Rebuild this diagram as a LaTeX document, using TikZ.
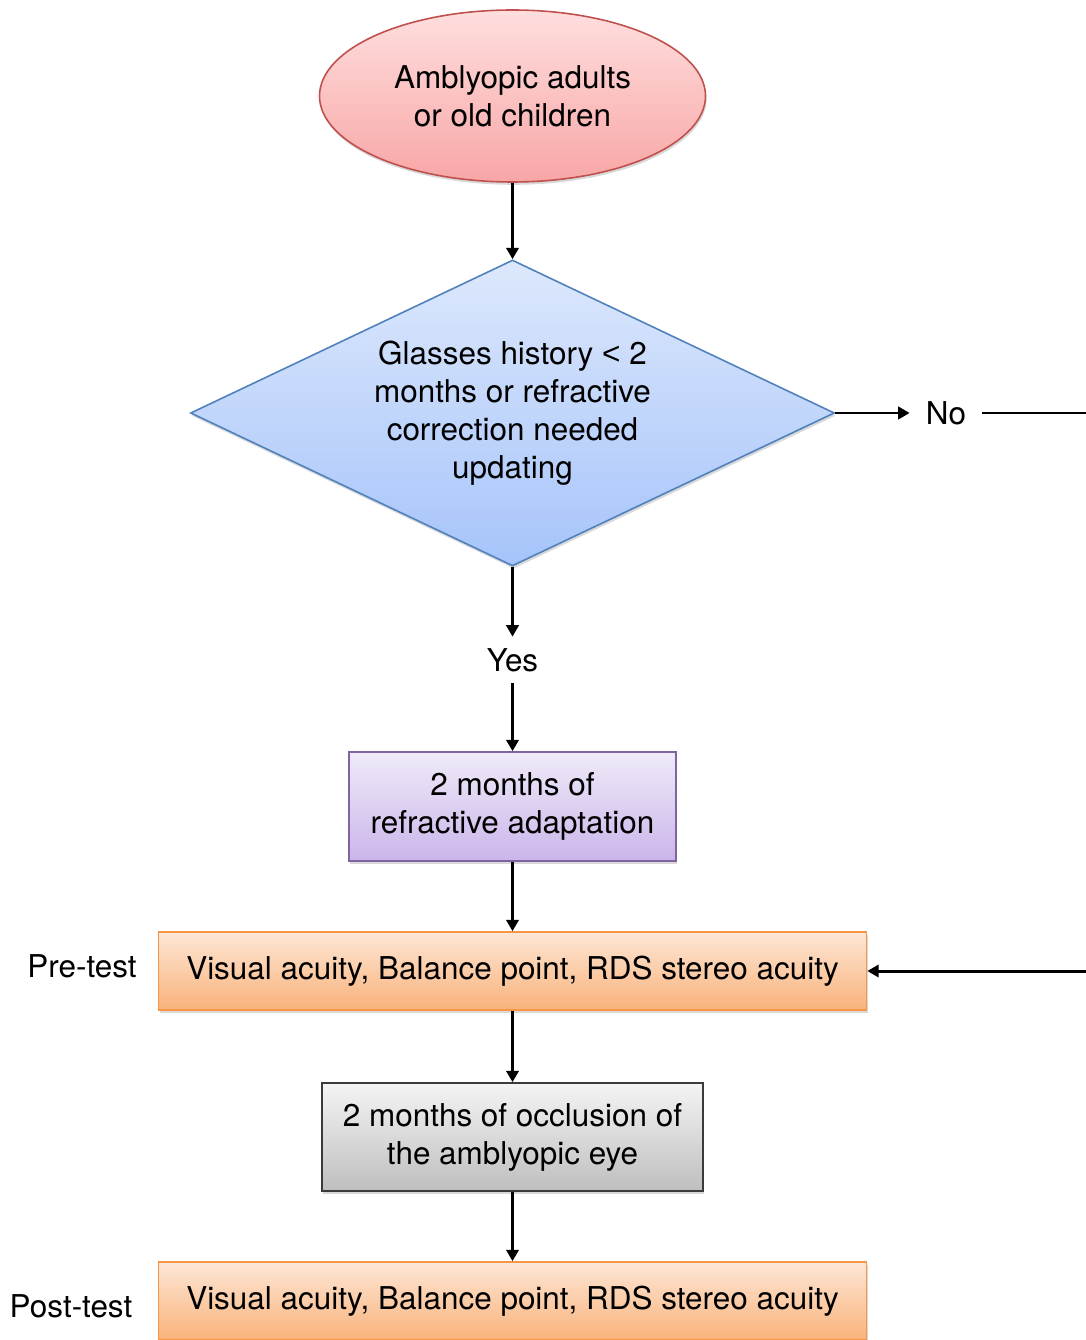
\documentclass[tikz,border=0pt]{standalone}
\usepackage{fontspec}
\setmainfont{TeX Gyre Heros}
\newfontfamily\symfont{Liberation Sans}
\usetikzlibrary{shapes.geometric, arrows.meta, shadows}

\definecolor{starttop}{HTML}{FFDEDE}
\definecolor{startbot}{HTML}{F8A6A6}
\definecolor{startedge}{HTML}{C0504D}
\definecolor{checktop}{HTML}{DDE8FC}
\definecolor{checkbot}{HTML}{A6C4FA}
\definecolor{checkedge}{HTML}{4F81BD}
\definecolor{adapttop}{HTML}{F0EAF9}
\definecolor{adaptbot}{HTML}{CAB6EA}
\definecolor{adaptedge}{HTML}{8064A2}
\definecolor{testtop}{HTML}{FDE7D6}
\definecolor{testbot}{HTML}{F9B27A}
\definecolor{testedge}{HTML}{F79646}
\definecolor{occltop}{HTML}{F4F4F4}
\definecolor{occlbot}{HTML}{BEBEBE}
\definecolor{occledge}{HTML}{3A3A3A}

\tikzset{
    flowarrow/.style={-{Triangle[length=6.5pt,width=7pt]}, line width=1.7pt},
    boxshadow/.style={drop shadow={shadow xshift=0.6pt, shadow yshift=-1.6pt, opacity=0.3}},
    startnode/.style={ellipse, draw=startedge, line width=0.9pt, top color=starttop,
        bottom color=startbot, minimum width=7.72cm, minimum height=3.44cm,
        inner sep=0pt, align=center, boxshadow},
    decision/.style={diamond, aspect=2.1, draw=checkedge, line width=0.9pt, top color=checktop,
        bottom color=checkbot, minimum width=12.88cm, minimum height=6.12cm,
        inner sep=0pt, align=center, boxshadow},
    adaptbox/.style={rectangle, draw=adaptedge, line width=0.9pt, top color=adapttop,
        bottom color=adaptbot, minimum width=6.54cm, minimum height=2.18cm,
        inner sep=0pt, align=center, boxshadow},
    testbox/.style={rectangle, draw=testedge, line width=0.9pt, top color=testtop,
        bottom color=testbot, minimum width=14.16cm, minimum height=1.56cm,
        inner sep=0pt, align=center, boxshadow},
    occlbox/.style={rectangle, draw=occledge, line width=0.9pt, top color=occltop,
        bottom color=occlbot, minimum width=7.62cm, minimum height=2.16cm,
        inner sep=0pt, align=center, boxshadow},
    answer/.style={inner sep=0pt, minimum height=0.92cm, minimum width=1.44cm}
}

\begin{document}
\begin{tikzpicture}[font=\fontsize{17.9}{21.6}\selectfont]
    \useasboundingbox (0,0) rectangle (21.7,-26.8);

    % start and decision
    \node[startnode] (start) at (10.25,-1.92) {Amblyopic adults\\or old children};
    \node[decision] (check) at (10.25,-8.26) {Glasses history {\symfont<} 2\\months or refractive\\correction needed\\updating};
    \node[answer] (yes) at (10.25,-13.2) {Yes};
    \node[answer] (no) at (18.92,-8.26) {No};

    % steps
    \node[adaptbox] (adapt) at (10.25,-16.13) {2 months of\\refractive adaptation};
    \node[testbox] (pre) at (10.25,-19.42) {Visual acuity, Balance point, RDS stereo acuity};
    \node[occlbox] (occl) at (10.25,-22.74) {2 months of occlusion of\\the amblyopic eye};
    \node[testbox] (post) at (10.25,-26.02) {Visual acuity, Balance point, RDS stereo acuity};

    % side labels
    \node (prelabel) at (1.64,-19.32) {Pre-test};
    \node (postlabel) at (1.42,-26.12) {Post-test};

    % arrows
    \foreach \a/\b in {start/check, check/yes, yes/adapt, adapt/pre, pre/occl, occl/post} {
        \draw[flowarrow] (\a.south) -- (\b.north);
    }
    \draw[flowarrow] (check.east) -- (no.west);
    \draw[flowarrow] (no.east) -- ++(4.5,0) |- (pre.east);
\end{tikzpicture}
\end{document}
